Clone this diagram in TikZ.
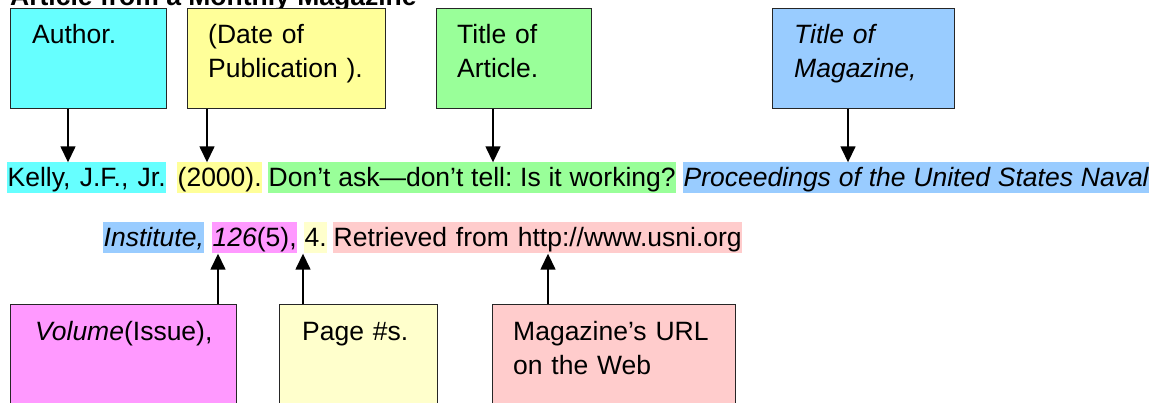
\documentclass[tikz,border=0pt]{standalone}
\usepackage{fontspec}
\setmainfont{Liberation Sans}
\usetikzlibrary{arrows.meta,calc}
\frenchspacing
\newcommand\bigfnt{\fontsize{26.5}{34}\selectfont}
\newcommand\spreadbox[2]{\makebox[#1][s]{#2}}
\definecolor{cyanbox}{HTML}{66FFFF}
\definecolor{yelbox}{HTML}{FFFF99}
\definecolor{grnbox}{HTML}{99FF99}
\definecolor{blubox}{HTML}{99CCFF}
\definecolor{magbox}{HTML}{FF99FF}
\definecolor{ltyelbox}{HTML}{FFFFCC}
\definecolor{pinkbox}{HTML}{FFCCCC}
\tikzset{
  partbox/.style={draw=black!85, line width=1.4pt, inner sep=0, anchor=north west},
  boxtxt/.style={inner sep=0, anchor=base west, font=\bigfnt, text width=220pt, align=left},
  hl/.style={inner xsep=0.5pt, inner ysep=0pt, text height=24.5pt, text depth=6.5pt, anchor=base west, font=\bigfnt},
  arr/.style={line width=1.5pt, -{Triangle[length=16pt,width=15pt]}}
}
\begin{document}
\begin{tikzpicture}[x=1pt,y=-1pt]
\useasboundingbox (0,0) rectangle (1153,403);
\clip (0,0) rectangle (1153,403);
% title (cut off at the top edge, as in the reference)
\node[inner sep=0, anchor=base west, font=\bfseries\bigfnt] (title) at (10,6) {Article from a Monthly Magazine};
% top boxes
\node[partbox, fill=cyanbox, minimum width=156pt, minimum height=100pt] (author) at (10,8) {};
\node[boxtxt] (authortxt) at ($(author.north west)+(22,36)$) {Author.};
\node[partbox, fill=yelbox, minimum width=198pt, minimum height=100pt] (date) at (187,8) {};
\node[boxtxt] (datetxt) at ($(date.north west)+(21,36)$) {(Date of\\Publication ).};
\node[partbox, fill=grnbox, minimum width=155pt, minimum height=100pt] (art) at (436,8) {};
\node[boxtxt] (arttxt) at ($(art.north west)+(21,36)$) {Title of\\Article.};
\node[partbox, fill=blubox, minimum width=182pt, minimum height=100pt] (mag) at (772,8) {};
\node[boxtxt, font=\bigfnt\itshape] (magtxt) at ($(mag.north west)+(22,36)$) {Title of\\Magazine,};
% row 1
\node[hl, fill=cyanbox] (kelly) at (7,187) {\spreadbox{158pt}{Kelly, J.F., Jr.}\hspace{3pt}};
\node[hl, fill=yelbox] (year) at (177,187) {(2000).};
\node[hl, fill=grnbox] (dont) at (268,187) {\spreadbox{407pt}{Don’t ask—don’t tell: Is it working?}};
\node[hl, fill=blubox, font=\bigfnt\itshape] (proc) at (683,187) {\spreadbox{465pt}{Proceedings of the United States Naval}};
% row 2
\node[hl, fill=blubox, font=\bigfnt\itshape] (inst) at (103,247) {Institute,};
\node[hl, fill=magbox] (vol) at (212,247) {\textit{126}(5),};
\node[hl, fill=ltyelbox] (pg) at (304,247) {4.};
\node[hl, fill=pinkbox] (url) at (333,247) {\spreadbox{408pt}{Retrieved from http://www.usni.org}};
% bottom boxes
\node[partbox, fill=magbox, minimum width=226pt, minimum height=130pt] (volbox) at (10,304) {};
\node[boxtxt] (volboxtxt) at ($(volbox.north west)+(25,36)$) {\textit{Volume}(Issue),};
\node[partbox, fill=ltyelbox, minimum width=158pt, minimum height=130pt] (pgbox) at (279,304) {};
\node[boxtxt] (pgboxtxt) at ($(pgbox.north west)+(23,36)$) {Page \#s.};
\node[partbox, fill=pinkbox, minimum width=243pt, minimum height=130pt] (urlbox) at (492,304) {};
\node[boxtxt] (urlboxtxt) at ($(urlbox.north west)+(21,36)$) {Magazine’s URL\\on the Web};
% arrows down
\draw[arr] ($(author.south west)+(58,0)$) coordinate (a1) -- (a1 |- kelly.north);
\draw[arr] ($(date.south west)+(20,0)$) coordinate (a2) -- (a2 |- year.north);
\draw[arr] ($(art.south west)+(57,0)$) coordinate (a3) -- (a3 |- dont.north);
\draw[arr] ($(mag.south west)+(76,0)$) coordinate (a4) -- (a4 |- proc.north);
% arrows up
\draw[arr] ($(volbox.north west)+(208,0)$) coordinate (b1) -- (b1 |- vol.south);
\draw[arr] ($(pgbox.north west)+(24,0)$) coordinate (b2) -- (b2 |- pg.south);
\draw[arr] ($(urlbox.north west)+(56,0)$) coordinate (b3) -- (b3 |- url.south);
\end{tikzpicture}
\end{document}
